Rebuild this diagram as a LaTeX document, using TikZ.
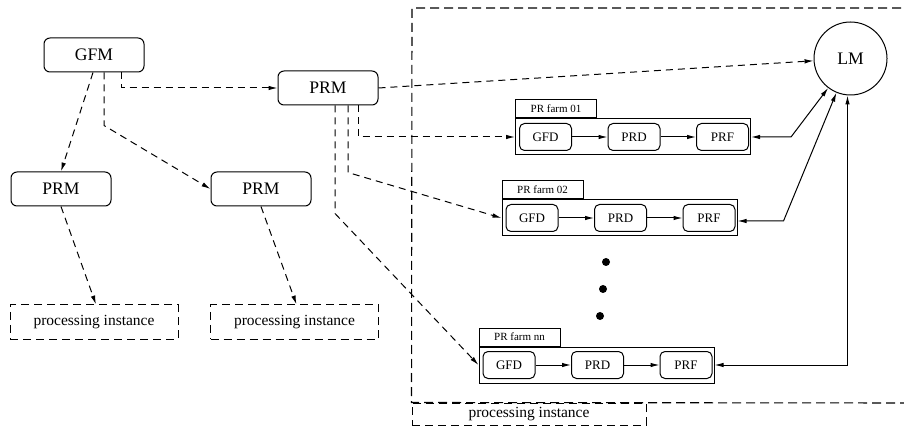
\documentclass[tikz,border=0pt]{standalone}
\usepackage{fontspec}
\setmainfont{Liberation Serif}
\usetikzlibrary{positioning, arrows.meta}

\begin{document}
\begin{tikzpicture}[
        x=1pt, y=-1pt,
        node distance=35.5pt,
        mgr/.style={rectangle, rounded corners=6pt, draw, line width=1pt, minimum width=100pt, minimum height=34pt, inner sep=0pt, font=\rmfamily\fontsize{17.6}{20}\selectfont},
        inst/.style={rectangle, draw, dash pattern=on 8pt off 5pt, line width=1pt, minimum width=168pt, minimum height=34pt, inner sep=0pt, font=\rmfamily\fontsize{15.5}{18}\selectfont},
        farm/.style={rectangle, draw, line width=1pt, minimum width=235pt, minimum height=36pt, inner sep=0pt},
        tab/.style={rectangle, draw, line width=1pt, minimum width=81pt, minimum height=18pt, inner sep=0pt, font=\rmfamily\fontsize{11}{12}\selectfont},
        dmn/.style={rectangle, rounded corners=5pt, draw, line width=1pt, minimum width=52pt, minimum height=27pt, inner sep=0pt, font=\rmfamily\fontsize{13}{15}\selectfont},
        dot/.style={circle, fill, inner sep=0pt, minimum size=8pt},
        dline/.style={-{Latex[length=9pt,width=4.5pt]}, line width=1pt, dash pattern=on 7pt off 5pt},
        sline/.style={-{Latex[length=9pt,width=4.5pt]}, line width=1pt},
        bline/.style={{Latex[length=9pt,width=4.5pt]}-{Latex[length=9pt,width=4.5pt]}, line width=1pt},
        frame/.style={line width=1.1pt, dash pattern=on 9pt off 5pt}
    ]
        \useasboundingbox (0,0) rectangle (904,427);

        % Managers
        \node[mgr] (gfm) at (94,55) {GFM};
        \node[mgr] (prm) at (328,88) {PRM};
        \node[mgr] (prmA) at (61,189) {PRM};
        \node[mgr] (prmB) at (261,189) {PRM};
        \node[circle, draw, line width=1pt, minimum size=73pt, inner sep=0pt, font=\rmfamily\fontsize{17.6}{20}\selectfont] (lm) at (850.5,58.5) {LM};

        % Processing instances
        \node[inst] (instA) at (94,322) {processing instance};
        \node[inst] (instB) at (294.5,322) {processing instance};
        \node[inst, minimum width=234pt, minimum height=22pt] (instC) at (529,414) {processing instance};
        \draw[frame] (915,8) -- (412,8) -- (instC.north west) -- (915,403);

        % Farm 01
        \node[farm] (f1) at (633,137) {};
        \node[tab, above right=0pt of f1.north west] (f1tab) {PR farm 01};
        \node[dmn, right=4pt of f1.west] (f1gfd) {GFD};
        \node[dmn, right=of f1gfd] (f1prd) {PRD};
        \node[dmn, right=of f1prd] (f1prf) {PRF};

        % Farm 02
        \node[farm] (f2) at (619.5,218) {};
        \node[tab, above right=0pt of f2.north west] (f2tab) {PR farm 02};
        \node[dmn, right=4pt of f2.west] (f2gfd) {GFD};
        \node[dmn, right=of f2gfd] (f2prd) {PRD};
        \node[dmn, right=of f2prd] (f2prf) {PRF};

        % Farm nn
        \node[farm] (fn) at (596.5,365) {};
        \node[tab, above right=0pt of fn.north west] (fntab) {PR farm nn};
        \node[dmn, right=4pt of fn.west] (fngfd) {GFD};
        \node[dmn, right=of fngfd] (fnprd) {PRD};
        \node[dmn, right=of fnprd] (fnprf) {PRF};

        % Dots
        \node[dot] (dot1) at (606,262) {};
        \node[dot] (dot2) at (603,289) {};
        \node[dot] (dot3) at (600,316) {};

        % GFM links
        \draw[dline] ([xshift=27pt]gfm.south) |- (prm.west);
        \draw[dline] ([xshift=-1pt]gfm.south) -- (prmA.north);
        \draw[dline] ([xshift=10pt]gfm.south) -- ++(0,53) -- (prmB.west);
        \draw[dline] (prmA.south) -- ([xshift=2pt]instA.north);
        \draw[dline] (prmB.south) -- ([xshift=2pt]instB.north);

        % PRM links
        \draw[dline] (prm.east) -- (lm);
        \draw[dline] ([xshift=30pt]prm.south) |- (f1.west);
        \draw[dline] ([xshift=20pt]prm.south) -- ++(0,67) -- (f2.west);
        \draw[dline] ([xshift=7pt]prm.south) -- ++(0,108) -- (fn.west);

        % Inside farms
        \draw[sline] (f1gfd) -- (f1prd);
        \draw[sline] (f1prd) -- (f1prf);
        \draw[sline] (f2gfd) -- (f2prd);
        \draw[sline] (f2prd) -- (f2prf);
        \draw[sline] (fngfd) -- (fnprd);
        \draw[sline] (fnprd) -- (fnprf);

        % Farms to LM
        \draw[bline] (f1.east) -- ++(40,0) -- (lm);
        \draw[bline] ([yshift=-3pt]f2.east) -- ++(46,0) -- (lm);
        \draw[bline] (fn.east) -- ([xshift=-3pt]fn.east -| lm.south) -- ([xshift=-3pt]lm.south);
    \end{tikzpicture}
\end{document}
